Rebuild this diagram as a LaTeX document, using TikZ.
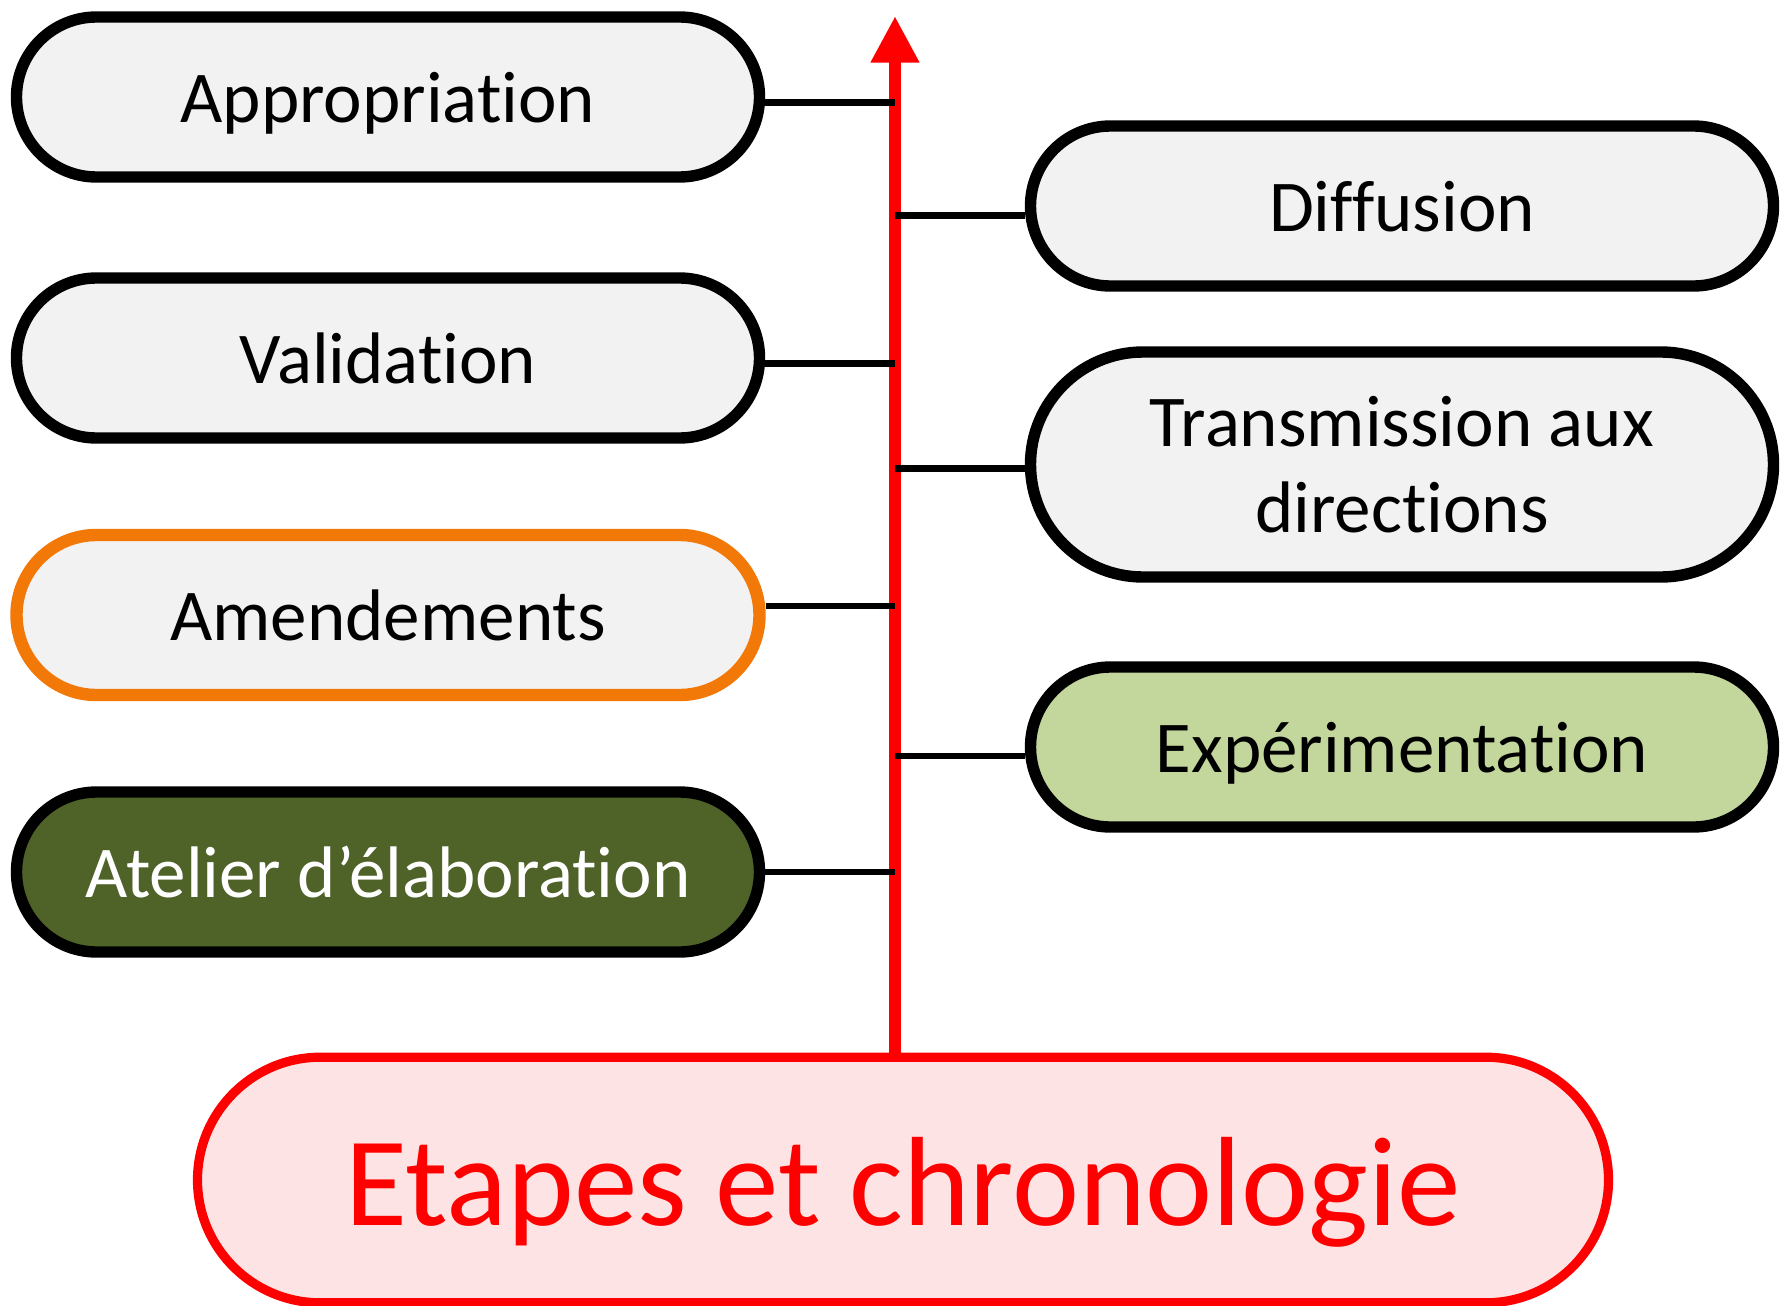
\documentclass[tikz,border=0pt]{standalone}
\usepackage{fontspec}
\setmainfont{Carlito}[RawFeature={-liga;-clig;-calt;-dlig;-rlig}]
\usetikzlibrary{shapes.misc,arrows.meta}
\newcommand{\tiSep}{t\kern0pt i}
\definecolor{boxgray}{HTML}{F2F2F2}
\definecolor{boxorange}{HTML}{F27808}
\definecolor{darkolive}{HTML}{4F6228}
\definecolor{lightolive}{HTML}{C3D69B}
\definecolor{pinkfill}{HTML}{FDE3E4}
\definecolor{pured}{HTML}{FF0000}
\tikzset{
  stepbox/.style={rounded rectangle, draw=black, line width=5.7pt, fill=boxgray,
    minimum width=371.5pt, minimum height=80pt, inner sep=0pt,
    font=\fontsize{36.5}{43}\selectfont, align=center, text=black},
  oneline/.style={text height=32pt, text depth=7pt},
  titlebox/.style={rounded rectangle, draw=pured, line width=4.6pt, fill=pinkfill,
    minimum width=705.5pt, minimum height=122.8pt, inner sep=0pt,
    font=\fontsize{63.5}{76}\selectfont, text=pured, text height=52pt, text depth=7pt},
  axisline/.style={draw=pured, line width=6.4pt, -{Triangle[length=23.25pt,width=22.75pt]}},
  link/.style={draw=black, line width=3.4pt}
}
\begin{document}
\begin{tikzpicture}[x=0.5pt,y=-0.5pt]
\useasboundingbox (0,0) rectangle (1783,1306);
% left column
\node[stepbox, oneline] (app) at (388,97) {Appropria\tiSep on};
\node[stepbox, oneline] (val) at (388,358) {Valida\tiSep on};
\node[stepbox, oneline, draw=boxorange, line width=6.2pt] (amd) at (388,615) {Amendements};
\node[stepbox, oneline, fill=darkolive, text=white] (ate) at (388,872) {Atelier d’élabora\tiSep on};
% right column
\node[stepbox, oneline] (dif) at (1402,206) {Diffusion};
\node[stepbox, minimum height=112.5pt] (tra) at (1402,464.5) {Transmission aux\\direc\tiSep ons};
\node[stepbox, oneline, fill=lightolive] (exp) at (1402,747) {Expérimenta\tiSep on};
% bottom
\node[titlebox] (bot) at (903,1180) {Etapes et chronologie};
% axis
\coordinate (axtop) at (895,16);
\draw[axisline] (bot.north -| axtop) -- (axtop);
% connectors
\draw[link] ([yshift=-2.85pt]app.east) -- ([yshift=-2.85pt]app.east -| axtop);
\draw[link] ([yshift=-2.85pt]val.east) -- ([yshift=-2.85pt]val.east -| axtop);
\draw[link] ([yshift=4.5pt]amd.east) -- ([yshift=4.5pt]amd.east -| axtop);
\draw[link] (ate.east) -- (ate.east -| axtop);
\draw[link] ([yshift=-4.85pt]dif.west -| axtop) -- ([yshift=-4.85pt]dif.west);
\draw[link] ([yshift=-2pt]tra.west -| axtop) -- ([yshift=-2pt]tra.west);
\draw[link] ([yshift=-4.5pt]exp.west -| axtop) -- ([yshift=-4.5pt]exp.west);
\end{tikzpicture}
\end{document}
